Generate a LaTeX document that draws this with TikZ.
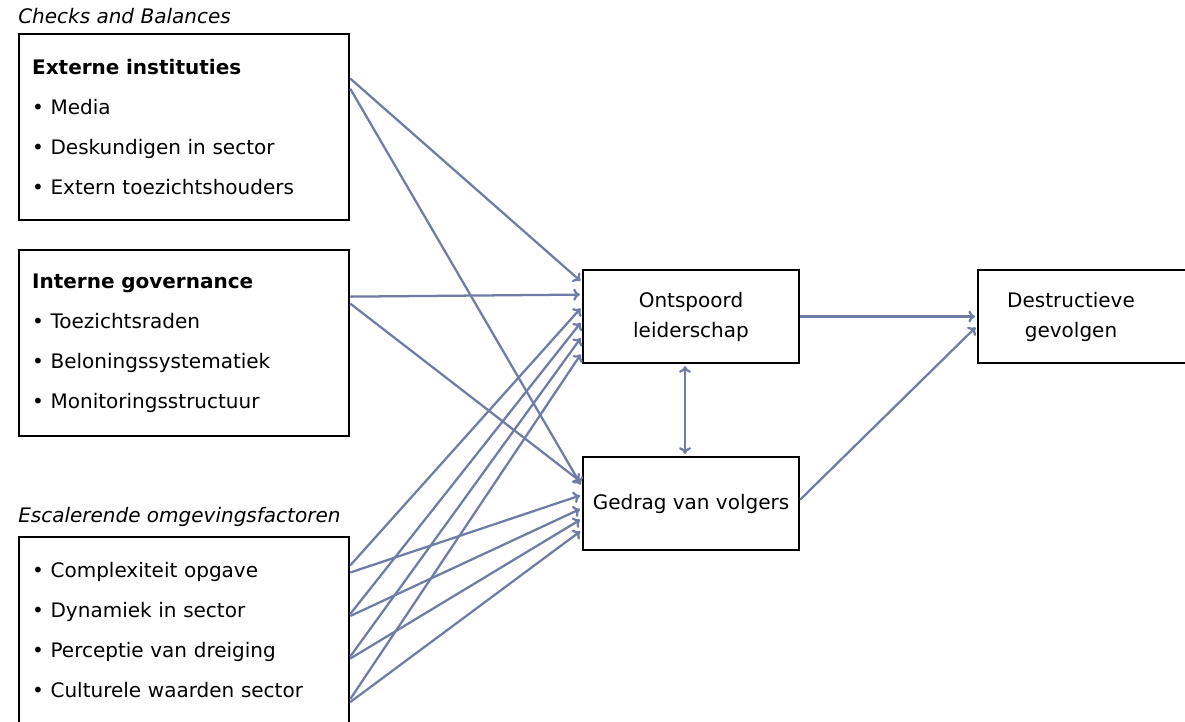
\documentclass[tikz,border=0pt]{standalone}
\usepackage{fontspec}
\setmainfont{DejaVu Sans}
\usetikzlibrary{arrows.meta,calc}

\definecolor{lijnblauw}{RGB}{111,125,166}

\begin{document}
\begin{tikzpicture}[x=0.75pt, y=-0.75pt, every node/.style={font=\fontsize{15}{30}\selectfont}]
    % Styles
    \tikzstyle{groep} = [rectangle, draw=black, line width=1.7pt, anchor=north west, minimum width=247.5pt, minimum height=139.5pt, text width=228pt, inner xsep=9.75pt, inner ysep=0pt, align=left, fill=white]
    \tikzstyle{factor} = [rectangle, draw=black, line width=1.7pt, minimum width=162pt, minimum height=69.75pt, inner sep=0pt, align=center, fill=white, font=\fontsize{15}{22.5}\selectfont]
    \tikzstyle{kop} = [anchor=west, inner sep=0pt, font=\fontsize{15}{16}\selectfont\itshape]
    \tikzstyle{arrow} = [-{To[length=5pt,width=9pt]}, draw=lijnblauw, line width=1.7pt, shorten >=1.5pt]

    \useasboundingbox (0,0) rectangle (1185,721);

    % Left column
    \node[kop] (cb) at (18,16) {Checks and Balances};
    \node[groep] (ext) at (18,33) {\textbf{Externe instituties}\\ • Media\\ • Deskundigen in sector\\ • Extern toezichtshouders};
    \node[groep] (int) at (18,249) {\textbf{Interne governance}\\ • Toezichtsraden\\ • Beloningssystematiek\\ • Monitoringsstructuur};
    \node[kop] (eo) at (18,517) {Escalerende omgevingsfactoren};
    \node[groep] (esc) at (18,536) {• Complexiteit opgave\\ • Dynamiek in sector\\ • Perceptie van dreiging\\ • Culturele waarden sector};

    % Middle and right
    \node[factor] (ont) at (691,316.5) {Ontspoord\\leiderschap};
    \node[factor] (ged) at (691,503.5) {Gedrag van volgers};
    \node[factor, anchor=west] (des) at (977,316.5) {};
    \node[align=center, inner sep=0pt, font=\fontsize{15}{22.5}\selectfont] (destxt) at (1071,316.5) {Destructieve\\gevolgen};

    % Arrows
    \draw[arrow] ($(ext.north east)!0.242!(ext.south east)$) -- ($(ont.north west)!0.14!(ont.south west)$);
    \draw[arrow] ($(ext.north east)!0.296!(ext.south east)$) -- ($(ged.north west)!0.32!(ged.south west)$);
    \draw[arrow] ($(int.north east)!0.253!(int.south east)$) -- ($(ont.north west)!0.27!(ont.south west)$);
    \draw[arrow] ($(int.north east)!0.29!(int.south east)$) -- ($(ged.north west)!0.28!(ged.south west)$);
    \foreach \s/\t in {0.156/0.40, 0.414/0.55, 0.64/0.71, 0.866/0.88}
        \draw[arrow] ($(esc.north east)!\s!(esc.south east)$) -- ($(ont.north west)!\t!(ont.south west)$);
    \foreach \s/\t in {0.194/0.41, 0.425/0.55, 0.651/0.66, 0.882/0.78}
        \draw[arrow] ($(esc.north east)!\s!(esc.south east)$) -- ($(ged.north west)!\t!(ged.south west)$);
    \draw[arrow, {To[length=5pt,width=9pt]}-{To[length=5pt,width=9pt]}, shorten <=1.5pt] ([xshift=-4.5pt]ont.south) -- ([xshift=-4.5pt]ged.north);
    \draw[arrow] (ont.east) -- (des.west);
    \draw[arrow] ($(ged.north east)!0.46!(ged.south east)$) -- ($(des.north west)!0.6!(des.south west)$);
\end{tikzpicture}
\end{document}
